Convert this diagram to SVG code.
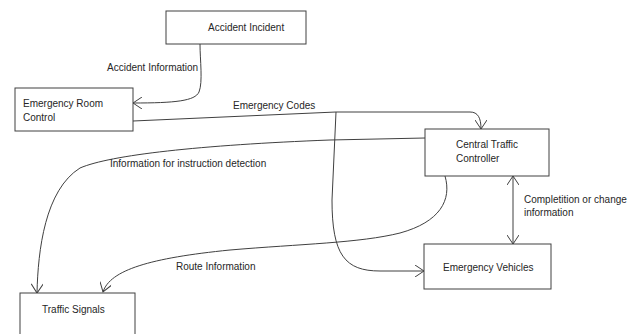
<svg xmlns="http://www.w3.org/2000/svg" width="633" height="334" viewBox="0 0 633 334">
<defs>
<marker id="arr" viewBox="-10 -6 12 12" refX="0" refY="0" markerWidth="12" markerHeight="12" markerUnits="userSpaceOnUse" orient="auto-start-reverse">
<path d="M-9,-6 L0,0 L-9,6" fill="none" stroke="#404040" stroke-width="1"/>
</marker>
</defs>
<style>
.box{fill:#fff;stroke:#404040;stroke-width:1}
.t{font-family:"Liberation Sans",Arial,sans-serif;font-size:10px;fill:#262626}
.c{fill:none;stroke:#404040;stroke-width:1}
</style>
<rect width="633" height="334" fill="#fff"/>
<g id="connectors">
<path class="c" d="M200,44 C200,60 203,82 199,92 C195,101 175,103 133,103" marker-end="url(#arr)"/>
<path class="c" d="M133,121 L336,112 L470,112 C478,112 481,118 481,129" marker-end="url(#arr)"/>
<path class="c" d="M336,112 L332,200 C332,255 345,271 380,271 L424,271" marker-end="url(#arr)"/>
<path class="c" d="M425,138 L330,140 C200,145 110,155 80,168 C45,190 38,250 37,293" marker-end="url(#arr)"/>
<path class="c" d="M445,176 C452,200 440,222 400,233 C360,243 300,244 230,250 C150,258 110,270 103,292" marker-end="url(#arr)"/>
<path class="c" d="M513,176 L513,244" marker-start="url(#arr)" marker-end="url(#arr)"/>
<text class="t" x="107" y="71">Accident Information</text>
<text class="t" x="233" y="109">Emergency Codes</text>
<text class="t" x="110" y="167">Information for instruction detection</text>
<text class="t" x="176" y="270">Route Information</text>
<text class="t" x="524" y="203">Completition or change</text>
<text class="t" x="524" y="216">information</text>
</g>
<g id="accident-incident">
<rect class="box" x="166" y="11" width="140" height="33"/>
<text class="t" x="208" y="31">Accident Incident</text>
</g>
<g id="emergency-room-control">
<rect class="box" x="15" y="88" width="118" height="43"/>
<text class="t" x="23" y="107">Emergency Room</text>
<text class="t" x="23" y="121">Control</text>
</g>
<g id="central-traffic-controller">
<rect class="box" x="425" y="129" width="124" height="47"/>
<text class="t" x="456" y="148">Central Traffic</text>
<text class="t" x="456" y="162">Controller</text>
</g>
<g id="emergency-vehicles">
<rect class="box" x="424" y="244" width="127" height="45"/>
<text class="t" x="443" y="271">Emergency Vehicles</text>
</g>
<g id="traffic-signals">
<rect class="box" x="20" y="293" width="115" height="50"/>
<text class="t" x="42" y="313">Traffic Signals</text>
</g>
</svg>
